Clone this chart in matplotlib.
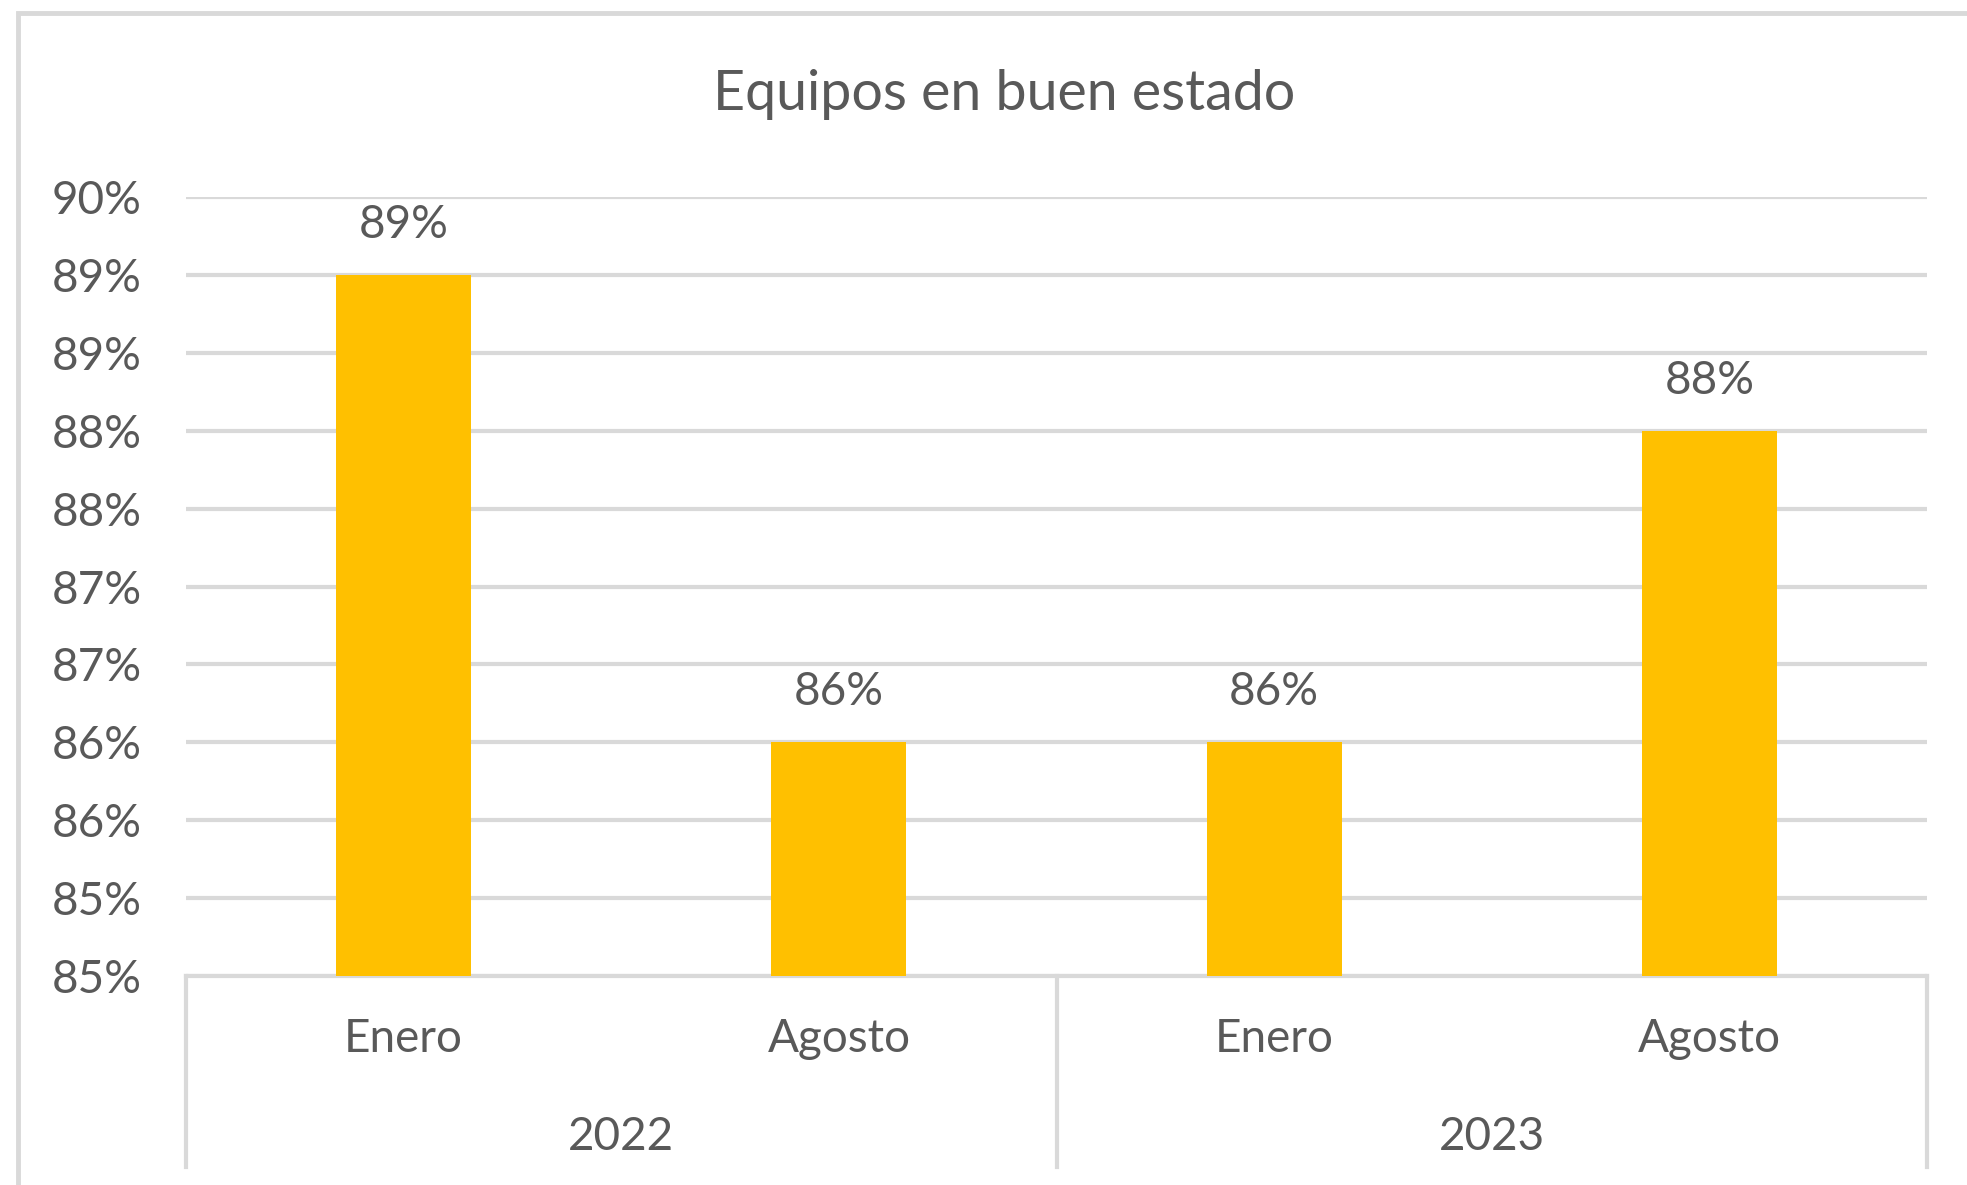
import matplotlib.pyplot as plt
from matplotlib.lines import Line2D
from matplotlib.patches import Rectangle

# data
months = ["Enero", "Agosto", "Enero", "Agosto"]
years = ["2022", "2023"]
values = [0.89, 0.86, 0.86, 0.88]
value_labels = ["89%", "86%", "86%", "88%"]
y_ticks = [0.845, 0.850, 0.855, 0.860, 0.865, 0.870, 0.875, 0.880, 0.885, 0.890, 0.895]
y_tick_labels = ["85%", "85%", "86%", "86%", "87%", "87%", "88%", "88%", "89%", "89%", "90%"]

plt.rcParams['font.family'] = ['Lato', 'DejaVu Sans']
txt = "#595959"
grid = "#d9d9d9"
fs = 33

fig = plt.figure(figsize=(19.67, 11.85), dpi=100)
fig.patches.append(Rectangle((18 / 1967, -0.05), 1.1, (1185 - 13) / 1185 + 0.05,
                             transform=fig.transFigure, fill=False,
                             edgecolor=grid, linewidth=3.5))

ax = fig.add_axes([186 / 1967, 1 - 976 / 1185, (1927 - 186) / 1967, (976 - 197) / 1185])

x = list(range(len(values)))
ax.bar(x, values, width=0.31, color="#FFC000", zorder=3)
ax.set_xlim(-0.5, 3.5)
ax.set_ylim(y_ticks[0], y_ticks[-1])

ax.set_yticks(y_ticks)
ax.set_yticklabels(y_tick_labels)
ax.tick_params(axis='y', length=0, pad=32, labelsize=fs, labelcolor=txt)
ax.set_xticks([])
ax.grid(axis='y', color=grid, linewidth=3, zorder=0)

for s in ["top", "left", "right"]:
    ax.spines[s].set_visible(False)
ax.spines["bottom"].set_color(grid)
ax.spines["bottom"].set_linewidth(3)

for xi, v, lab in zip(x, values, value_labels):
    ax.annotate(lab, (xi, v), xytext=(0, 36), textcoords="offset points",
                ha="center", va="center", fontsize=fs, color=txt)

# multi-level category axis
tr = ax.get_xaxis_transform()
for xs in [-0.5, 1.5, 3.5]:
    ax.add_line(Line2D([xs, xs], [0, -0.245], transform=tr, color=grid,
                       linewidth=3, clip_on=False))
for xi, m in zip(x, months):
    ax.text(xi, -0.081, m, transform=tr, ha="center", va="center",
            fontsize=fs, color=txt)
for i, yr in enumerate(years):
    ax.text(2 * i + 0.5, -0.207, yr, transform=tr, ha="center", va="center",
            fontsize=fs, color=txt)

fig.text(1004 / 1967, 1 - 94 / 1185, "Equipos en buen estado", ha="center",
         va="center", fontsize=40, color=txt)

fig.savefig("out.png", dpi=100)
